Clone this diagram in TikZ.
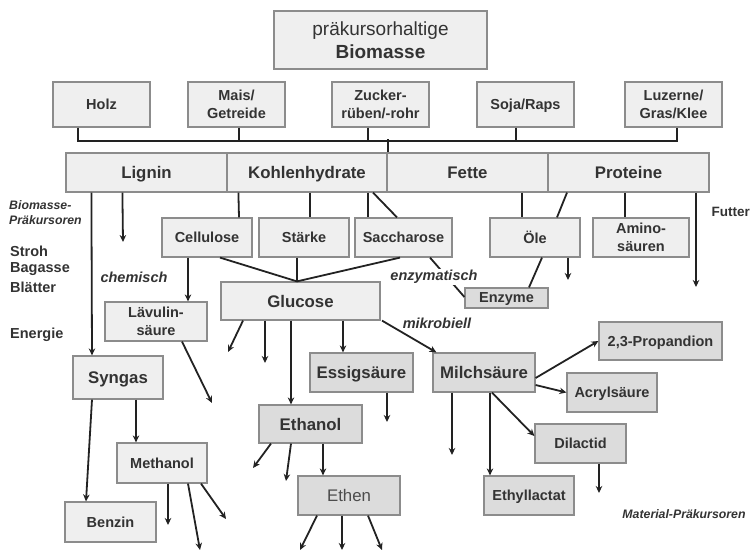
\documentclass[tikz,border=0pt]{standalone}
\usepackage{fontspec}
\setmainfont{Liberation Sans}
\usetikzlibrary{arrows.meta,calc}
\definecolor{lfill}{HTML}{EFEFEF}
\definecolor{dfill}{HTML}{DCDCDC}
\definecolor{bord}{HTML}{8C8C8C}
\definecolor{txt}{HTML}{333333}
\definecolor{ln}{HTML}{222222}
\begin{document}
\begin{tikzpicture}[x=1pt,y=-1pt,
  box/.style={draw=bord, line width=1.2pt, fill=lfill, text=txt, inner sep=0pt, align=center,
    font=\fontsize{14.5}{17.5}\selectfont\bfseries},
  dbox/.style={box, fill=dfill},
  sl/.style={text depth=0pt},
  big/.style={sl, font=\fontsize{16.8}{19}\selectfont\bfseries},
  conn/.style={draw=ln, line width=1.8pt},
  arr/.style={conn, -{Stealth[length=7pt,width=6.5pt]}},
  lbl/.style={text=txt, inner sep=1pt, font=\fontsize{14.5}{17}\selectfont\bfseries},
  ilbl/.style={lbl, font=\fontsize{14.5}{17}\selectfont\bfseries\itshape},
  slbl/.style={lbl, font=\fontsize{12.3}{15}\selectfont\bfseries\itshape}]
\useasboundingbox (0,0) rectangle (753,551);
% top
\node[box, minimum width=213pt, minimum height=58pt, font=\fontsize{19}{23}\selectfont] (bio) at (380.5,40) {präkursorhaltige\\\textbf{Biomasse}};
% sources
\node[box, sl, minimum width=97pt, minimum height=45pt] (holz) at (101.5,104.5) {Holz};
\node[box, minimum width=97pt, minimum height=45pt] (mais) at (236.5,104.5) {Mais/\\Getreide};
\node[box, minimum width=97pt, minimum height=45pt] (zucker) at (380.5,104.5) {Zucker-\\rüben/-rohr};
\node[box, sl, minimum width=97pt, minimum height=45pt] (soja) at (525.5,104.5) {Soja/Raps};
\node[box, minimum width=97pt, minimum height=45pt] (luz) at (673.5,104.5) {Luzerne/\\Gras/Klee};
% row
\node[box, big, minimum width=161pt, minimum height=39pt] (lignin) at (146.5,172.5) {Lignin};
\node[box, big, minimum width=160pt, minimum height=39pt] (kohlen) at (307,172.5) {Kohlenhydrate};
\node[box, big, minimum width=161pt, minimum height=39pt] (fette) at (467.5,172.5) {Fette};
\node[box, big, minimum width=161pt, minimum height=39pt] (prot) at (628.5,172.5) {Proteine};
% second level
\node[box, sl, minimum width=90pt, minimum height=39pt] (cell) at (207,237.5) {Cellulose};
\node[box, sl, minimum width=90pt, minimum height=39pt] (staerke) at (304,237.5) {Stärke};
\node[box, sl, minimum width=97pt, minimum height=39pt] (sacch) at (403.5,237.5) {Saccharose};
\node[box, sl, minimum width=90pt, minimum height=39pt] (oele) at (535,237.5) {Öle};
\node[box, minimum width=96pt, minimum height=39pt] (amino) at (641,237.5) {Amino-\\säuren};
\node[dbox, sl, minimum width=83pt, minimum height=20pt] (enz) at (506.5,298) {Enzyme};
\node[box, big, minimum width=159pt, minimum height=38pt] (glu) at (300.5,301) {Glucose};
\node[box, minimum width=102pt, minimum height=39pt] (lav) at (156,321.5) {Lävulin-\\säure};
\node[box, big, minimum width=90pt, minimum height=43pt] (syn) at (118,377.5) {Syngas};
\node[box, sl, minimum width=91pt, minimum height=40pt] (benz) at (110.5,522) {Benzin};
\node[box, sl, minimum width=90pt, minimum height=40pt] (meth) at (162,463) {Methanol};
\node[dbox, big, minimum width=103pt, minimum height=39pt] (essig) at (361.5,372.5) {Essigsäure};
\node[dbox, big, minimum width=102pt, minimum height=39pt] (milch) at (484,372.5) {Milchsäure};
\node[dbox, sl, minimum width=123pt, minimum height=38pt] (prop) at (660.5,341) {2,3-Propandion};
\node[dbox, sl, minimum width=90pt, minimum height=39pt] (acryl) at (612,392.5) {Acrylsäure};
\node[dbox, sl, minimum width=91pt, minimum height=39pt] (dil) at (580.5,443.5) {Dilactid};
\node[dbox, sl, minimum width=90pt, minimum height=39pt] (ethyl) at (529,495.5) {Ethyllactat};
\node[dbox, big, minimum width=103pt, minimum height=38pt] (eth) at (310.5,424) {Ethanol};
\node[dbox, sl, minimum width=102pt, minimum height=39pt, font=\fontsize{16.8}{19}\selectfont, text=black!70] (ethen) at (349,495.5) {Ethen};
% free ends
\coordinate (futE) at (696,287);
\coordinate (oeleE) at (568,280);
\coordinate (ligE) at (123,242);
\coordinate (lavE) at (212,403);
\coordinate (g1) at (228,352);
\coordinate (g2) at (265,363);
\coordinate (esE) at (387,422);
\coordinate (miE) at (452,455);
\coordinate (diE) at (599,493);
\coordinate (m1) at (168,525);
\coordinate (m2) at (200,550);
\coordinate (m3) at (226,519);
\coordinate (e1) at (253,468);
\coordinate (e2) at (286,481);
\coordinate (n1) at (300,550);
\coordinate (n2) at (342,550);
\coordinate (n3) at (382,550);
% bus
\draw[conn] ($(holz.south)+(-23.5,0)$) -- ($(holz.south)+(-23.5,13)$) -- ($(luz.south)+(3.5,13)$) -- ($(luz.south)+(3.5,0)$);
\draw[conn] ($(mais.south)+(2.5,0)$) -- ++(0,13);
\draw[conn] ($(zucker.south)+(-12.5,0)$) -- ++(0,13);
\draw[conn] ($(soja.south)+(-9.5,0)$) -- ++(0,13);
\draw[conn] (kohlen.north east) -- ++(0,-13);
% row to second level
\draw[conn] ($(kohlen.south west)+(12,0)$) -- ($(cell.north)+(32,0)$);
\draw[conn] ($(kohlen.south)+(3,0)$) -- ($(staerke.north)+(6,0)$);
\draw[conn] ($(kohlen.south)+(61,0)$) -- ($(sacch.north)+(-35.5,0)$);
\draw[conn] ($(kohlen.south)+(66,0)$) -- ($(sacch.north)+(-6.5,0)$);
\draw[conn] ($(fette.south)+(54.5,0)$) -- ($(oele.north)+(-13,0)$);
\draw[conn] ($(prot.south)+(-61.5,0)$) -- ($(oele.north)+(22,0)$);
\draw[conn] ($(prot.south)+(-3.5,0)$) -- ($(amino.north)+(-16,0)$);
\draw[arr] ($(prot.south)+(67.5,0)$) -- (futE);
\draw[conn] ($(oele.south)+(7,0)$) -- ($(enz.north)+(22.5,0)$);
\draw[arr] ($(oele.south)+(33,0)$) -- (oeleE);
\draw[conn] ($(sacch.south)+(26.5,0)$) -- ($(enz.west)+(0,-1)$);
% to glucose
\draw[conn] ($(cell.south)+(13,0)$) -- ($(glu.north)+(-3.5,0)$);
\draw[conn] ($(staerke.south)+(-7,0)$) -- ($(glu.north)+(-3.5,0)$);
\draw[conn] ($(sacch.south)+(-3.5,0)$) -- ($(glu.north)+(-3.5,0)$);
% lignin and cellulose
\draw[arr] ($(cell.south)+(-19,0)$) -- ($(lav.north)+(32,0)$);
\draw[arr] ($(lav.south)+(26,0)$) -- (lavE);
\draw[arr] ($(lignin.south west)+(26,0)$) -- ($(syn.north)+(-26,0)$);
\draw[arr] ($(lignin.south west)+(57,0)$) -- (ligE);
% glucose out
\draw[arr] ($(glu.south)+(-57.5,0)$) -- (g1);
\draw[arr] ($(glu.south)+(-35.5,0)$) -- (g2);
\draw[arr] ($(glu.south)+(-9.5,0)$) -- ($(eth.north)+(-19.5,0)$);
\draw[arr] ($(glu.south)+(42.5,0)$) -- ($(essig.north)+(-18.5,0)$);
\draw[arr] ($(glu.south)+(81.5,0)$) -- ($(milch.north west)+(4,0)$);
\draw[arr] ($(essig.south)+(25.5,0)$) -- (esE);
% milchsaeure out
\draw[arr] ($(milch.east)+(0,5.5)$) -- (prop.west);
\draw[arr] ($(milch.east)+(0,12.5)$) -- (acryl.west);
\draw[arr] ($(milch.south)+(-32,0)$) -- (miE);
\draw[arr] ($(milch.south)+(6,0)$) -- ($(ethyl.north)+(-39,0)$);
\draw[arr] ($(milch.south)+(8,0)$) -- ($(dil.west)+(0,-7.5)$);
\draw[arr] ($(dil.south)+(18.5,0)$) -- (diE);
% syngas
\draw[arr] ($(syn.south)+(-26,0)$) -- ($(benz.north)+(-24.5,0)$);
\draw[arr] ($(syn.south)+(18,0)$) -- ($(meth.north)+(-26,0)$);
\draw[arr] ($(meth.south)+(6,0)$) -- (m1);
\draw[arr] ($(meth.south)+(26,0)$) -- (m2);
\draw[arr] ($(meth.south)+(39,0)$) -- (m3);
% ethanol
\draw[arr] ($(eth.south)+(-39.5,0)$) -- (e1);
\draw[arr] ($(eth.south)+(-19.5,0)$) -- (e2);
\draw[arr] ($(eth.south)+(12.5,0)$) -- ($(ethen.north)+(-26,0)$);
\draw[arr] ($(ethen.south)+(-32,0)$) -- (n1);
\draw[arr] ($(ethen.south)+(-7,0)$) -- (n2);
\draw[arr] ($(ethen.south)+(19,0)$) -- (n3);
% labels
\node[ilbl, fill=white] (enzl) at (434,277) {enzymatisch};
\node[ilbl] (mikl) at (437,323) {mikrobiell};
\node[ilbl] (cheml) at (134,277) {chemisch};
\node[lbl, anchor=east, font=\fontsize{13.5}{16}\selectfont\bfseries] (futl) at (751,212) {Futter};
\node[slbl, anchor=west] (bpl1) at (8,205) {Biomasse-};
\node[slbl, anchor=west] (bpl2) at (8,220) {Präkursoren};
\node[lbl, anchor=west] (stroh) at (9,251) {Stroh};
\node[lbl, anchor=west] (bag) at (9,269) {Bagasse};
\node[lbl, anchor=west] (blae) at (9,287) {Blätter};
\node[lbl, anchor=west] (ener) at (9,335) {Energie};
\node[slbl] (matl) at (684,514) {Material-Präkursoren};
\end{tikzpicture}
\end{document}
